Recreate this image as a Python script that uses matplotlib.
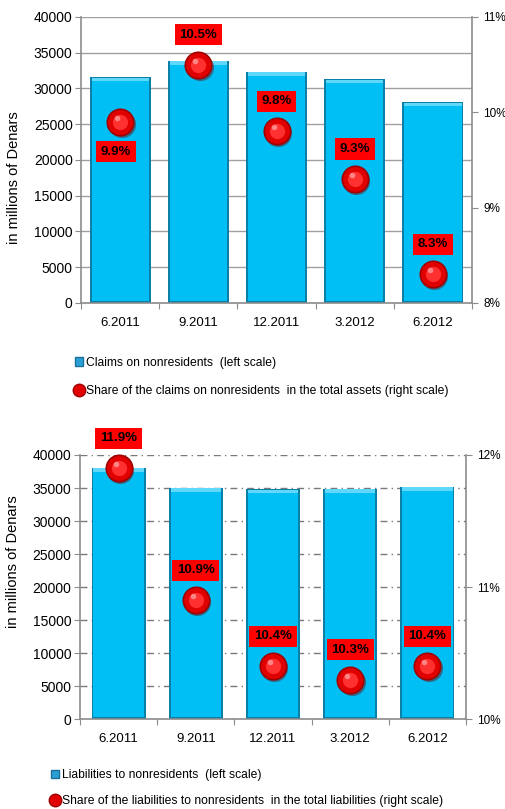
import matplotlib
matplotlib.use('Agg')
import matplotlib.pyplot as plt
from matplotlib.patches import Patch
from matplotlib.lines import Line2D
from matplotlib.ticker import FuncFormatter
import matplotlib.transforms as mtrans
import numpy as np

periods = ['6.2011', '9.2011', '12.2011', '3.2012', '6.2012']

claims = [31600, 33900, 32350, 31300, 28100]
claims_share = [9.9, 10.5, 9.8, 9.3, 8.3]

liabilities = [38100, 35050, 34800, 34900, 35200]
liab_share = [11.9, 10.9, 10.4, 10.3, 10.4]

BAR_DARK = '#0a7fa8'
BAR_MAIN = '#00bff5'
BAR_TOP = '#5fd8fb'
GRAY = '#8c8c8c'
TICK_FONT = ['Liberation Sans', 'DejaVu Sans']

fig = plt.figure(figsize=(5.06, 8.09), dpi=100)
fig.patch.set_facecolor('white')


def draw_panel(ax, values, shares, width, ylim_r, grid_style, ylab_x,
               ylab_y, label_below):
    x = np.arange(len(values))
    vals = np.array(values, dtype=float)
    # bevelled bars: dark frame, bright face, light cap
    ax.bar(x, vals, width, color=BAR_DARK, zorder=2, linewidth=0)
    ax.bar(x, vals - 900, width - 0.05, bottom=300, color=BAR_MAIN,
           zorder=3, linewidth=0)
    ax.bar(x, np.full(len(vals), 500.0), width - 0.05, bottom=vals - 600,
           color=BAR_TOP, zorder=3, linewidth=0)

    ax.set_xlim(-0.5, len(values) - 0.5)
    ax.set_ylim(0, 40000)
    ax.set_yticks(np.arange(0, 40001, 5000))
    ax.set_xticks(np.arange(-0.5, len(values)), labels=[])
    ax.set_xticks(x, labels=periods, minor=True)
    ax.tick_params(axis='x', which='major', length=4, color=GRAY,
                   direction='out')
    ax.tick_params(axis='x', which='minor', length=0, pad=10)
    ax.tick_params(axis='y', length=4, color=GRAY, pad=2)
    for lab in ax.get_xticklabels(minor=True):
        lab.set_family(TICK_FONT)
        lab.set_fontsize(9.5)
    for lab in ax.get_yticklabels():
        lab.set_family(TICK_FONT)
        lab.set_fontsize(10)

    ax.set_axisbelow(True)
    if grid_style == 'solid':
        ax.yaxis.grid(True, color='#a0a0a0', linewidth=1.0, zorder=0)
    else:
        ax.yaxis.grid(True, color='#7a7a7a', linewidth=1.0,
                      dashes=(5, 3, 1, 3), zorder=0)
    ax.spines['top'].set_visible(False)
    for s in ['left', 'bottom', 'right']:
        ax.spines[s].set_color(GRAY)
        ax.spines[s].set_linewidth(1.2)

    ax.set_ylabel('in millions of Denars', family=TICK_FONT, fontsize=10.5)
    ax.yaxis.set_label_coords(ylab_x, ylab_y)

    ax2 = ax.twinx()
    ax2.set_ylim(*ylim_r)
    ax2.set_yticks(np.arange(ylim_r[0], ylim_r[1] + 0.5, 1))
    ax2.yaxis.set_major_formatter(FuncFormatter(lambda v, p: f'{v:.0f}%'))
    ax2.tick_params(axis='y', length=4, color=GRAY, pad=4)
    for lab in ax2.get_yticklabels():
        lab.set_family(TICK_FONT)
        lab.set_fontsize(8.5)
    for s in ax2.spines.values():
        s.set_visible(False)

    # shaded red balls
    shadow = mtrans.offset_copy(ax2.transData, fig=fig, x=1.5, y=-2.0,
                                units='dots')
    hilite = mtrans.offset_copy(ax2.transData, fig=fig, x=-3.0, y=4.0,
                                units='dots')
    ax2.plot(x, shares, 'o', ms=19.5, color='#6e0000', alpha=0.45,
             mec='none', transform=shadow, zorder=4, clip_on=False)
    ax2.plot(x, shares, 'o', ms=19, color='#e00000', mec='#a00000',
             mew=1.2, zorder=5, clip_on=False)
    ax2.plot(x, shares, 'o', ms=11, color='#ff3030', mec='none',
             zorder=6, clip_on=False)
    ax2.plot(x, shares, 'o', ms=4, color='#ff9a9a', alpha=0.8, mec='none',
             transform=hilite, zorder=7, clip_on=False)

    for i, v in enumerate(shares):
        dy = -30 if i in label_below else 30
        dx = -4 if i in label_below else 0
        ax2.annotate(f'{v:.1f}%', (x[i], v), xytext=(dx, dy),
                     textcoords='offset pixels', ha='center', va='center',
                     fontsize=9.5, fontweight='bold', family=TICK_FONT,
                     color='black', zorder=8, annotation_clip=False,
                     bbox=dict(boxstyle='square,pad=0.35', fc='#ff0000',
                               ec='none'))
    return ax2


def series_legend(labels, anchor, spacing):
    handles = [Patch(facecolor='#2a9fd6', edgecolor='#1b6f9a'),
               Line2D([], [], marker='o', ls='none', ms=9,
                      color='#e00000', mec='#a00000')]
    fig.legend(handles=handles, labels=labels, loc='center left',
               bbox_to_anchor=anchor, frameon=False, handlelength=0.7,
               handleheight=0.7, handletextpad=0.25, labelspacing=spacing,
               borderpad=0, borderaxespad=0,
               prop={'family': TICK_FONT, 'size': 8.7})


# Claims on nonresidents
ax_top = fig.add_axes([0.160, 0.6255, 0.773, 0.3535])
draw_panel(ax_top, claims, claims_share, 0.78, (8, 11), 'solid',
           -0.153, 0.44, label_below=[0])
series_legend(['Claims on nonresidents  (left scale)',
               'Share of the claims on nonresidents  in the total assets (right scale)'],
              (0.148, 0.534), 1.4)

# Liabilities to nonresidents
ax_bot = fig.add_axes([0.158, 0.1109, 0.763, 0.3267])
draw_panel(ax_bot, liabilities, liab_share, 0.70, (10, 12), 'dashdot',
           -0.155, 0.597, label_below=[])
series_legend(['Liabilities to nonresidents  (left scale)',
               'Share of the liabilities to nonresidents  in the total liabilities (right scale)'],
              (0.100, 0.026), 1.15)

fig.savefig('out.png', dpi=100)
